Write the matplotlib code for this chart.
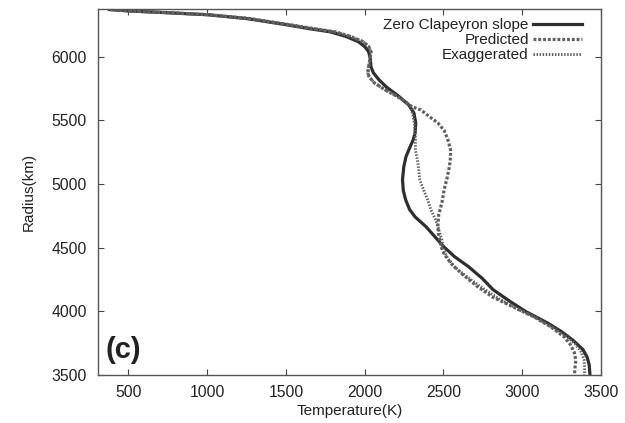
import matplotlib
matplotlib.use("Agg")
import matplotlib.pyplot as plt

plt.rcParams["font.family"] = ["Liberation Sans", "DejaVu Sans"]

# Zero Clapeyron slope (radius km, temperature K)
zero_r = [6371, 6360, 6345, 6330, 6300, 6252, 6220, 6196, 6160, 6118, 6080, 6040,
          5990, 5921, 5874, 5820, 5760, 5686, 5620, 5560, 5481, 5400, 5348, 5269,
          5214, 5135, 5033, 4950, 4876, 4800, 4742, 4664, 4580, 4507, 4430, 4350,
          4260, 4170, 4080, 4000, 3909, 3840, 3775, 3700, 3640, 3580, 3500]
zero_t = [380, 500, 760, 1000, 1250, 1500, 1650, 1780, 1880, 1960, 2000, 2025,
          2035, 2040, 2055, 2090, 2140, 2220, 2280, 2312, 2324, 2320, 2308, 2280,
          2262, 2248, 2240, 2245, 2260, 2285, 2320, 2390, 2450, 2502, 2570, 2660,
          2745, 2815, 2920, 3020, 3160, 3250, 3320, 3385, 3412, 3425, 3430]

# Predicted Clapeyron slope
pred_r = [6371, 6360, 6345, 6330, 6300, 6252, 6220, 6196, 6160, 6118, 6080, 6040,
          5990, 5921, 5874, 5843, 5796, 5740, 5686, 5640, 5607, 5583, 5530, 5481,
          5420, 5348, 5269, 5214, 5140, 5057, 4960, 4852, 4760, 4664, 4600, 4507,
          4450, 4380, 4302, 4200, 4114, 4030, 3957, 3880, 3800, 3740, 3680, 3618,
          3560, 3500]
pred_t = [380, 500, 770, 1010, 1270, 1520, 1680, 1810, 1910, 1990, 2025, 2040,
          2035, 2025, 2020, 2028, 2060, 2130, 2210, 2265, 2300, 2356, 2410, 2464,
          2505, 2528, 2545, 2545, 2538, 2525, 2505, 2490, 2470, 2464, 2470, 2485,
          2505, 2545, 2610, 2710, 2810, 2950, 3074, 3180, 3265, 3305, 3330, 3340,
          3335, 3332]

# Exaggerated Clapeyron slope
exag_r = [6371, 6360, 6345, 6330, 6300, 6252, 6220, 6196, 6160, 6118, 6080, 6040,
          5990, 5921, 5874, 5843, 5796, 5740, 5686, 5640, 5607, 5550, 5481, 5400,
          5348, 5269, 5167, 5033, 4950, 4876, 4797, 4720, 4640, 4560, 4483, 4420,
          4350, 4280, 4190, 4100, 4020, 3950, 3870, 3800, 3740, 3680, 3620, 3560,
          3500]
exag_t = [380, 500, 770, 1010, 1270, 1520, 1680, 1810, 1910, 1990, 2025, 2040,
          2035, 2025, 2020, 2028, 2060, 2130, 2210, 2265, 2292, 2305, 2315, 2320,
          2322, 2322, 2338, 2350, 2375, 2400, 2420, 2450, 2471, 2490, 2502, 2525,
          2570, 2640, 2740, 2850, 2970, 3085, 3195, 3285, 3340, 3375, 3392, 3396,
          3395]

xticks = [500, 1000, 1500, 2000, 2500, 3000, 3500]
yticks = [3500, 4000, 4500, 5000, 5500, 6000]

fig = plt.figure(figsize=(6.25, 4.23), dpi=100)
ax = fig.add_axes([0.157, 0.1135, 0.8046, 0.8652])

ax.plot(zero_t, zero_r, color="#2e2e2e", lw=2.3, label="Zero Clapeyron slope")
ax.plot(pred_t, pred_r, color="#606060", lw=2.3, ls=(0, (0.9, 0.6)), label="Predicted")
ax.plot(exag_t, exag_r, color="#606060", lw=2.1, ls=(0, (0.5, 0.55)), label="Exaggerated")

ax.set_xlim(308, 3500)
ax.set_ylim(3500, 6375)
ax.set_xticks(xticks)
ax.set_yticks(yticks)
ax.tick_params(direction="in", top=True, right=True, length=4, width=0.8,
               colors="#444444", labelcolor="#222222", labelsize=11.3)
ax.tick_params(axis="y", pad=8)
ax.tick_params(axis="x", pad=7)
for s in ax.spines.values():
    s.set_color("#555555")
    s.set_linewidth(1.0)

ax.set_xlabel("Temperature(K)", fontsize=11, color="#222222", labelpad=3)
ax.set_ylabel("Radius(km)", fontsize=11, color="#222222", labelpad=11)

ax.text(0.015, 0.03, "(c)", transform=ax.transAxes, fontsize=21,
        fontweight="bold", color="#222222", ha="left", va="bottom")

leg = ax.legend(loc="upper right", bbox_to_anchor=(0.975, 0.992), frameon=False,
                markerfirst=False, fontsize=11, handlelength=3.2,
                handletextpad=0.3, labelspacing=0.08, borderaxespad=0.0)
for t in leg.get_texts():
    t.set_color("#222222")

fig.savefig("out.png", dpi=100)
